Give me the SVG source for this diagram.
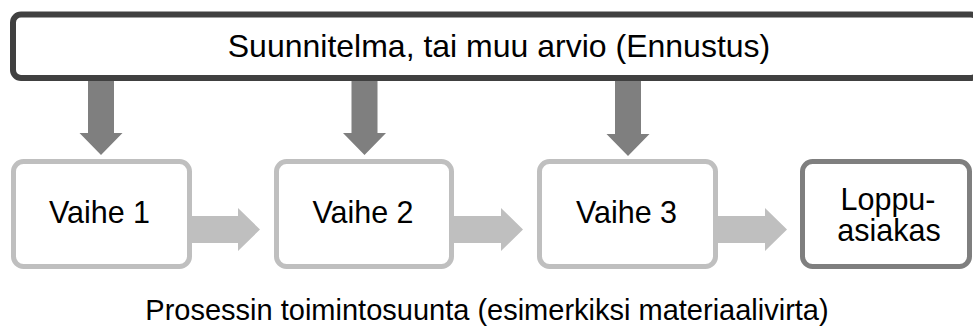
<svg xmlns="http://www.w3.org/2000/svg" width="973" height="329" viewBox="0 0 973 329">
<style>
text{font-family:"Liberation Sans",Arial,sans-serif;fill:#000;text-anchor:middle}
.t{font-size:30.5px}
.step{fill:#fff;stroke:#bfbfbf;stroke-width:5}
.down{fill:#7f7f7f}
.right{fill:#bfbfbf}
</style>
<rect width="973" height="329" fill="#fff"/>
<g id="plan">
<rect x="13" y="14.5" width="966" height="63.5" rx="8" fill="#fff" stroke="#404040" stroke-width="6"/>
<text x="499" y="57" style="font-size:32px">Suunnitelma, tai muu arvio (Ennustus)</text>
</g>
<g id="connectors">
<path class="down" d="M88 81H114V133H122.5L101 155L79.5 133H88Z"/>
<path class="down" d="M351.5 81H377.5V133H386L364.5 155L343 133H351.5Z"/>
<path class="down" d="M615 81H641V134H649.5L628 156L606.5 134H615Z"/>
<path class="right" d="M192 216H238V208L260 229.5L238 251V243H192Z"/>
<path class="right" d="M454 216H501V208L523 229.5L501 251V243H454Z"/>
<path class="right" d="M718 216H765V208L787 229.5L765 251V243H718Z"/>
</g>
<g id="vaihe1">
<rect class="step" x="13.5" y="161.5" width="176" height="105" rx="10"/>
<text class="t" x="99.5" y="223">Vaihe 1</text>
</g>
<g id="vaihe2">
<rect class="step" x="276.5" y="161.5" width="175" height="105" rx="10"/>
<text class="t" x="363" y="223">Vaihe 2</text>
</g>
<g id="vaihe3">
<rect class="step" x="539.5" y="161.5" width="176" height="105" rx="10"/>
<text class="t" x="626.5" y="223">Vaihe 3</text>
</g>
<g id="loppuasiakas">
<rect x="802.5" y="161.5" width="167" height="105" rx="10" fill="#fff" stroke="#7f7f7f" stroke-width="5"/>
<text class="t" x="888" y="210">Loppu-</text>
<text class="t" x="889" y="241">asiakas</text>
</g>
<g id="caption">
<text x="487" y="320" style="font-size:29px">Prosessin toimintosuunta (esimerkiksi materiaalivirta)</text>
</g>
</svg>
